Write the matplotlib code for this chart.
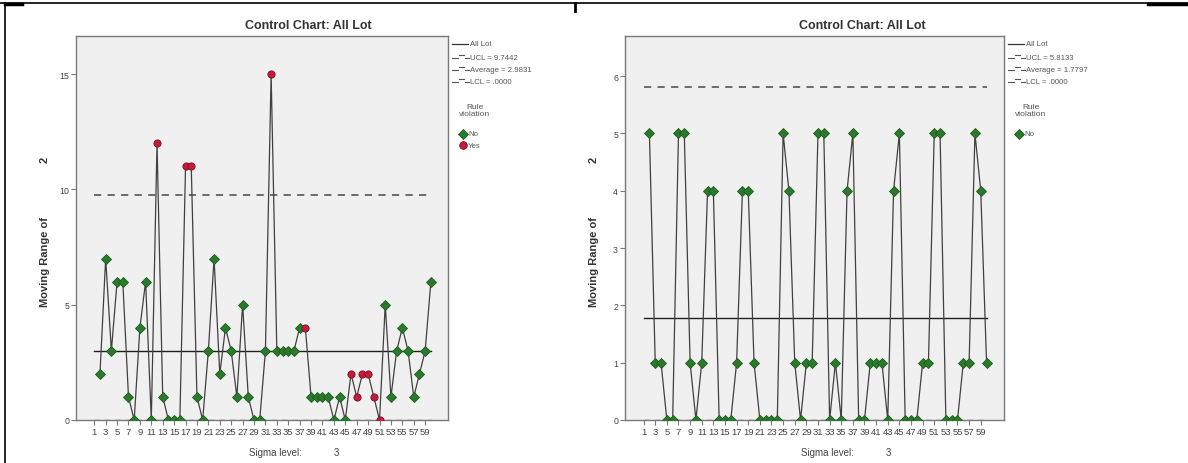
import numpy as np
import matplotlib.pyplot as plt
from matplotlib.lines import Line2D

plt.rcParams['font.family'] = ['Liberation Sans', 'DejaVu Sans']

W, H = 1188, 464

# moving range values, samples 2..60 (sample 1 has no moving range)
samples = list(range(2, 61))
mr_left = [2, 7, 3, 6, 6, 1, 0, 4, 6, 0,
           12, 1, 0, 0, 0, 11, 11, 1, 0, 3,
           7, 2, 4, 3, 1, 5, 1, 0, 0, 3,
           15, 3, 3, 3, 3, 4, 4, 1, 1, 1,
           1, 0, 1, 0, 2, 1, 2, 2, 1, 0,
           5, 1, 3, 4, 3, 1, 2, 3, 6]
violations_left = [12, 17, 18, 32, 38, 46, 47, 48, 49, 50, 51]
mr_right = [5, 1, 1, 0, 0, 5, 5, 1, 0, 1,
            4, 4, 0, 0, 0, 1, 4, 4, 1, 0,
            0, 0, 0, 5, 4, 1, 0, 1, 1, 5,
            5, 0, 1, 0, 4, 5, 0, 0, 1, 1,
            1, 0, 4, 5, 0, 0, 0, 1, 1, 5,
            5, 0, 0, 0, 1, 1, 5, 4, 1]
violations_right = []

limits_left = {'UCL': 9.7442, 'Average': 2.9831, 'LCL': 0.0}
limits_right = {'UCL': 5.8133, 'Average': 1.7797, 'LCL': 0.0}
labels_left = ['UCL = 9.7442', 'Average = 2.9831', 'LCL = .0000']
labels_right = ['UCL = 5.8133', 'Average = 1.7797', 'LCL = .0000']

tick_cats = list(range(1, 60, 2))

GREEN = '#2b7a2b'
RED = '#c41a3c'
GRAY = '#555555'

fig = plt.figure(figsize=(W / 100, H / 100), dpi=100)


def fx(px):
    return px / W


def fy(py):
    return 1 - py / H


def panel(left, right, top, bottom, values, viol, limits, lim_labels,
          ymax, yticks, legend_yes):
    ax = fig.add_axes([fx(left), fy(bottom), (right - left) / W, (bottom - top) / H])
    ax.set_facecolor('#f0f0f0')
    for s in ax.spines.values():
        s.set_color('#7a7a7a')
        s.set_linewidth(1.0)

    ax.plot(samples, values, color='#404040', lw=0.9, zorder=2)
    # control limits from first to last sample
    ax.plot([1, 60], [limits['UCL']] * 2, color='#606060', lw=1.3,
            dashes=(4, 3.5), zorder=1)
    ax.plot([1, 60], [limits['Average']] * 2, color='#202020', lw=1.0, zorder=1)
    ax.plot([1, 60], [limits['LCL']] * 2, color='#606060', lw=1.0,
            dashes=(4, 3.5), zorder=1)

    ok_x = [s for s, v in zip(samples, values) if s not in viol]
    ok_y = [v for s, v in zip(samples, values) if s not in viol]
    bad_x = [s for s, v in zip(samples, values) if s in viol]
    bad_y = [v for s, v in zip(samples, values) if s in viol]
    ax.plot(ok_x, ok_y, 'D', ms=4.6, color=GREEN, mec='#1d5a1d', mew=0.6, zorder=3)
    if bad_x:
        ax.plot(bad_x, bad_y, 'o', ms=5.2, color=RED, mec='#7a1020', mew=0.6, zorder=3)

    ax.set_xlim(-2.2, 63)
    ax.set_ylim(0, ymax)
    ax.set_xticks(tick_cats)
    ax.set_xticklabels([str(c) for c in tick_cats])
    ax.set_yticks(yticks)
    ax.tick_params(axis='both', colors='#7a7a7a', labelcolor='#444444',
                   labelsize=6.3, length=3.5, width=0.8, pad=1.5)
    ax.tick_params(axis='x', labelsize=6.8)

    # title
    fig.text(fx(left + 0.625 * (right - left)), fy(26), 'Control Chart: All Lot',
             ha='center', va='center', fontsize=9, fontweight='bold', color='#333333')

    # y axis label
    ylab_x = left - 31
    fig.text(fx(ylab_x), fy(262), 'Moving Range of', rotation=90, ha='center',
             va='center', fontsize=8, fontweight='bold', color='#333333')
    fig.text(fx(ylab_x), fy(160), '2', rotation=90, ha='center', va='center',
             fontsize=8, fontweight='bold', color='#333333')

    # x axis label
    cx = (left + right) / 2
    fig.text(fx(cx + 13), fy(453), 'Sigma level:', ha='center', va='center',
             fontsize=7, color='#444444')
    fig.text(fx(cx + 74), fy(453), '3', ha='center', va='center',
             fontsize=7, color='#444444')

    # legend
    x0 = right + 4
    fig.add_artist(Line2D([fx(x0), fx(x0 + 16)], [fy(45), fy(45)], color='#333333', lw=0.9))
    fig.text(fx(x0 + 18), fy(45), 'All Lot', ha='left', va='center', fontsize=5.6, color=GRAY)
    for i, lab in enumerate(lim_labels):
        yy = 58 + 12 * i
        fig.add_artist(Line2D([fx(x0), fx(x0 + 6)], [fy(yy + 1), fy(yy + 1)], color=GRAY, lw=0.8))
        fig.add_artist(Line2D([fx(x0 + 7), fx(x0 + 12)], [fy(yy - 2), fy(yy - 2)], color=GRAY, lw=0.8))
        fig.add_artist(Line2D([fx(x0 + 13), fx(x0 + 17)], [fy(yy + 1), fy(yy + 1)], color=GRAY, lw=0.8))
        fig.text(fx(x0 + 18), fy(yy), lab, ha='left', va='center', fontsize=5.6, color=GRAY)
    fig.text(fx(x0 + 23), fy(111), 'Rule\nviolation', ha='center', va='center',
             fontsize=6, color=GRAY, linespacing=1.1)
    fig.add_artist(Line2D([fx(x0 + 11)], [fy(135)], marker='D', ms=5.5, color=GREEN,
                          mec='#1d5a1d', mew=0.6, ls='none'))
    fig.text(fx(x0 + 16), fy(135), 'No', ha='left', va='center', fontsize=5.6, color=GRAY)
    if legend_yes:
        fig.add_artist(Line2D([fx(x0 + 11)], [fy(146)], marker='o', ms=5.5, color=RED,
                              mec='#7a1020', mew=0.6, ls='none'))
        fig.text(fx(x0 + 16), fy(146), 'Yes', ha='left', va='center', fontsize=5.6, color=GRAY)
    return ax


panel(76, 448, 37, 421, mr_left, violations_left, limits_left, labels_left,
      16.65, [0, 5, 10, 15], True)
panel(625, 1004, 37, 421, mr_right, violations_right, limits_right, labels_right,
      6.7, [0, 1, 2, 3, 4, 5, 6], False)

# page / table border around the charts
fig.add_artist(Line2D([0, 1], [fy(4), fy(4)], color='black', lw=1.2))
fig.add_artist(Line2D([fx(5), fx(5)], [fy(4), 0], color='black', lw=1.2))
fig.add_artist(Line2D([fx(5), fx(22)], [fy(5), fy(5)], color='black', lw=2.5))
fig.add_artist(Line2D([fx(575), fx(575)], [fy(4), fy(12)], color='black', lw=2.0))
fig.add_artist(Line2D([fx(1148), 1], [fy(5), fy(5)], color='black', lw=2.5))

fig.savefig('out.png', dpi=100, facecolor='white')
